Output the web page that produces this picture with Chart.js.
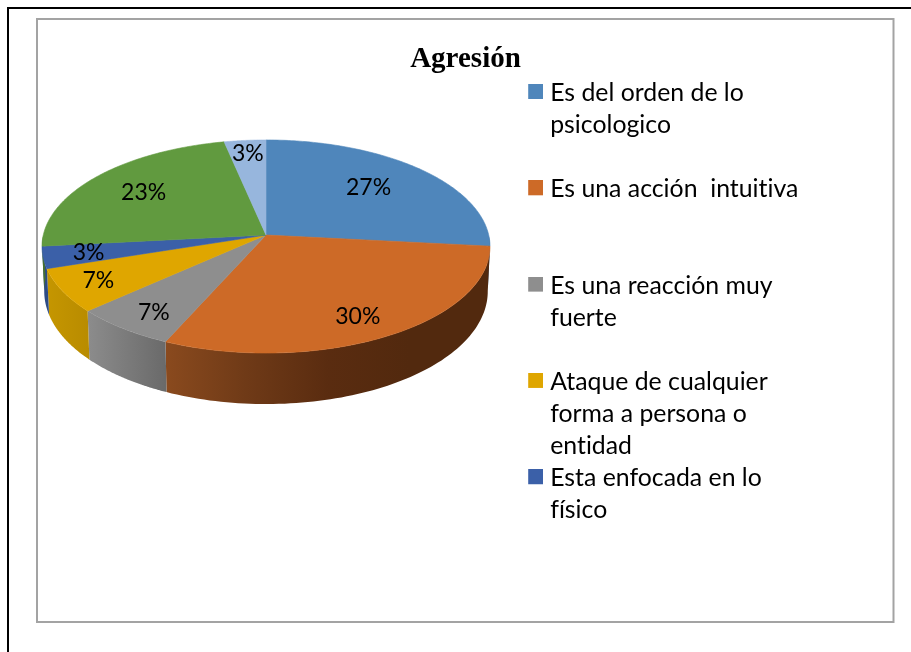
<!DOCTYPE html>
<html lang="es">
<head>
<meta charset="utf-8">
<style>html,body{margin:0;padding:0;background:#fff}canvas{display:block}</style>
<script src="https://cdn.jsdelivr.net/npm/chart.js@4"></script>
</head>
<body>
<div style="width:911px;height:652px"><canvas id="c" width="911" height="652"></canvas></div>
<script>
const chartTitle = 'Agresión';
const categories = [
  ['Es del orden de lo', 'psicologico', ''],
  ['Es una acción  intuitiva', '', ''],
  ['Es una reacción muy', 'fuerte', ''],
  ['Ataque de cualquier', 'forma a persona o', 'entidad'],
  ['Esta enfocada en lo', 'físico'],
  ['(sin leyenda)'],
  ['(sin leyenda)']
];
const responses = [8, 9, 2, 2, 1, 7, 1];
const topColors = ['#4f86bb', '#cd6a27', '#8e8e8e', '#dfa600', '#3b60a8', '#619a3f', '#97b6dd'];
const wallColors = [
  ['#36597c', '#36597c'],
  ['#8a4a1e', '#6f3a17', '#5a2c10', '#52290e', '#52290e'],
  ['#8c8c8c', '#6a6a6a'],
  ['#c59600', '#b98c00'],
  ['#2d4b85', '#2d4b85'],
  ['#47702e', '#47702e'],
  ['#7f9bbd', '#7f9bbd']
];
const labelRadius = [0.68, 0.81, 0.83, 0.83, 0.80, 0.71, 0.85];
const labelAngleShift = [-2.6, 2, -1.8, 0, 0, 0, 0];
const LEGEND_SHOWN = 5;

// perspective projection of the pie disc
const P = {cx: 266, cy: 235, A: 105.3, B: 222.7, k: 0.108};
function project(u, v) {
  const w = 1 - P.k * v;
  return [P.cx + P.B * u / w, P.cy + P.A * v / w];
}
function lower(a) {
  const u = Math.cos(a), v = Math.sin(a), p = project(u, v);
  return [P.cx + (p[0] - P.cx) * 0.99, p[1] + 44 + 7 * v];
}

// legend swatch: 15x15 square placed inside a padded image so that it sits level with the text
function swatch(color) {
  const c = document.createElement('canvas');
  c.width = 20; c.height = 18;
  const x = c.getContext('2d');
  x.fillStyle = color;
  x.fillRect(5, 0, 15, 15);
  return c;
}
const swatches = topColors.map(swatch);

const pie3d = {
  id: 'pie3d',
  beforeDraw(chart) {
    const ctx = chart.ctx;
    ctx.letterSpacing = '0.01px';
    ctx.save();
    ctx.fillStyle = '#000';
    ctx.fillRect(7, 7, 904, 2);
    ctx.fillRect(7, 7, 2, 645);
    ctx.strokeStyle = '#a3a3a3';
    ctx.lineWidth = 2;
    ctx.strokeRect(37, 19, 856.5, 603);
    ctx.restore();
  },
  afterLayout(chart) {
    const lg = chart.legend, tb = chart.titleBlock;
    lg.left = 528.2; lg.right = 900; lg.top = 80.6; lg.bottom = 640;
    tb.left = 20; tb.right = 911; tb.top = 41; tb.bottom = 79;
  },
  beforeDatasetsDraw(chart) {
    const ctx = chart.ctx, arcs = chart.getDatasetMeta(0).data;
    const total = responses.reduce((s, x) => s + x, 0);
    ctx.save();
    // side walls
    arcs.forEach((arc, i) => {
      const s = Math.max(arc.startAngle, 0), e = Math.min(arc.endAngle, Math.PI);
      if (e <= s) return;
      const x0 = project(Math.cos(s), Math.sin(s))[0], x1 = project(Math.cos(e), Math.sin(e))[0];
      const g = ctx.createLinearGradient(Math.min(x0, x1), 0, Math.max(x0, x1), 0);
      const st = wallColors[i];
      const orderIsRtl = x1 < x0;
      st.forEach((c, j) => {
        const t = j / (st.length - 1);
        g.addColorStop(orderIsRtl ? t : 1 - t, c);
      });
      ctx.beginPath();
      const N = 80;
      for (let n = 0; n <= N; n++) {
        const a = s + (e - s) * n / N, p = project(Math.cos(a), Math.sin(a));
        n ? ctx.lineTo(p[0], p[1]) : ctx.moveTo(p[0], p[1]);
      }
      for (let n = N; n >= 0; n--) {
        const p = lower(s + (e - s) * n / N);
        ctx.lineTo(p[0], p[1]);
      }
      ctx.closePath();
      ctx.fillStyle = g;
      ctx.fill();
    });
    // top face
    arcs.forEach((arc, i) => {
      ctx.beginPath();
      const c = project(0, 0);
      ctx.moveTo(c[0], c[1]);
      const N = 120;
      for (let n = 0; n <= N; n++) {
        const a = arc.startAngle + (arc.endAngle - arc.startAngle) * n / N;
        const p = project(Math.cos(a), Math.sin(a));
        ctx.lineTo(p[0], p[1]);
      }
      ctx.closePath();
      ctx.fillStyle = topColors[i];
      ctx.strokeStyle = topColors[i];
      ctx.lineWidth = 0.6;
      ctx.fill();
      ctx.stroke();
    });
    // value labels
    ctx.fillStyle = '#000';
    ctx.font = '23px Lato';
    ctx.textAlign = 'center';
    ctx.textBaseline = 'middle';
    arcs.forEach((arc, i) => {
      const m = (arc.startAngle + arc.endAngle) / 2 + labelAngleShift[i] * Math.PI / 180, f = labelRadius[i];
      const p = project(f * Math.cos(m), f * Math.sin(m));
      ctx.fillText(Math.round(responses[i] / total * 100) + '%', p[0], p[1]);
    });
    ctx.restore();
    return false;
  }
};

new Chart(document.getElementById('c'), {
  type: 'pie',
  data: {
    labels: categories,
    datasets: [{data: responses, backgroundColor: topColors, borderWidth: 0}]
  },
  plugins: [pie3d],
  options: {
    responsive: false,
    animation: false,
    layout: {padding: 0},
    plugins: {
      tooltip: {enabled: false},
      title: {
        display: true,
        text: chartTitle,
        color: '#000',
        font: {family: '"Liberation Serif"', size: 29, weight: 'bold', lineHeight: 1},
        padding: {top: 4, bottom: 4}
      },
      legend: {
        display: true,
        position: 'right',
        align: 'start',
        maxWidth: 370,
        labels: {
          color: '#000',
          font: {family: 'Lato', size: 24.8, lineHeight: '32.1px'},
          usePointStyle: true,
          boxWidth: 9.6,
          boxHeight: 15,
          padding: 0,
          generateLabels(chart) {
            return Chart.overrides.pie.plugins.legend.labels.generateLabels(chart)
              .map((item, i) => Object.assign(item, {pointStyle: swatches[i]}));
          },
          filter: (item) => item.index < LEGEND_SHOWN
        }
      }
    }
  }
});
</script>
</body>
</html>
